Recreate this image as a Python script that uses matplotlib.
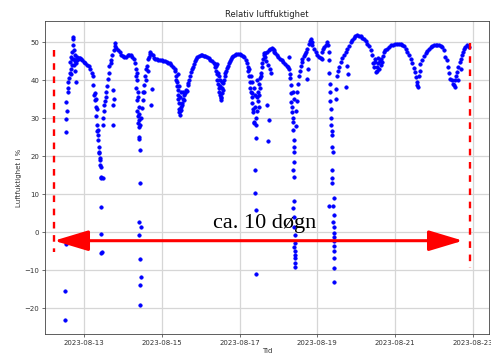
import matplotlib
matplotlib.use('Agg')
import matplotlib.pyplot as plt
import matplotlib.dates as mdates
from matplotlib.lines import Line2D
import numpy as np
import pandas as pd

# humidity log, hours after 2023-08-12 00:00 and relative humidity in %
start = np.array([
    (12.5, -23.0), (12.6, -15.5), (12.8, -3.0), (12.7, 26.4), (13.0, 34.2), (13.3, 29.9),
    (13.6, 32.0), (14.0, 36.9), (14.1, 39.5), (14.5, 38.0), (15.0, 40.5), (15.2, 42.0),
    (15.4, 44.7), (15.8, 41.5), (16.0, 43.0), (16.3, 46.0), (16.6, 44.0), (16.8, 47.3),
    (17.0, 45.5), (17.2, 49.1), (17.3, 50.8), (17.5, 51.3), (17.7, 48.0), (17.9, 45.5),
    (18.1, 44.0), (18.3, 46.5), (18.5, 42.5), (18.8, 45.0), (19.0, 44.5), (19.3, 39.5),
    (19.6, 46.0), (20.0, 45.2), (20.5, 45.6), (21.0, 45.8), (21.5, 45.7), (22.0, 45.5),
    (23.0, 45.2), (24.0, 44.7), (25.0, 44.4), (26.0, 44.0), (27.0, 43.6), (28.0, 42.8),
    (29.0, 42.0),
])

dip_13 = np.array([
    (29.6, 41.0), (29.9, 38.6), (30.2, 36.0), (30.6, 34.7), (30.9, 36.5), (31.2, 33.0),
    (31.5, 35.0), (31.7, 30.5), (31.9, 32.5), (32.1, 28.1), (32.3, 26.5), (32.5, 25.5),
    (32.7, 27.0), (32.9, 24.2), (33.1, 22.5), (33.3, 21.2), (33.5, 20.8), (33.7, 19.4),
    (33.9, 19.0), (34.1, 17.7), (34.3, 17.2), (34.5, 14.6), (34.7, 14.4), (34.7, 6.7),
    (34.8, -0.5), (34.8, -5.4), (34.9, -5.2), (35.6, 14.2), (35.7, 28.1), (36.0, 30.0),
    (36.3, 32.0), (36.7, 33.5), (37.0, 34.5), (37.4, 35.5), (37.8, 36.9), (38.2, 38.5),
    (38.8, 40.4), (39.3, 42.0), (39.8, 43.8), (40.5, 44.5), (41.0, 45.2), (41.5, 46.5),
    (41.8, 33.4), (41.8, 28.1), (41.9, 37.3), (42.3, 47.8), (42.5, 35.0), (43.0, 49.0),
    (43.5, 49.8), (44.0, 48.5), (45.0, 47.8), (46.0, 47.3), (47.0, 46.7), (48.0, 46.3),
    (49.0, 46.0), (50.0, 46.2), (51.0, 46.5), (52.0, 46.6), (53.0, 46.5), (54.0, 46.2),
    (55.0, 45.5),
])

dip_14 = np.array([
    (55.6, 44.4), (56.0, 43.0), (56.2, 41.2), (56.3, 38.0), (56.5, 42.0), (56.6, 34.7),
    (56.8, 40.0), (57.0, 32.0), (57.2, 37.0), (57.3, 30.5), (57.5, 35.5), (57.6, 28.6),
    (57.8, 33.0), (57.9, 29.5), (58.0, 27.7), (58.1, 31.0), (58.2, 25.1), (58.3, 24.5),
    (58.4, 21.6), (58.5, 28.2), (58.8, 12.9), (57.8, 2.6), (59.2, 1.5), (58.3, -0.7),
    (58.8, -6.9), (59.3, -11.7), (58.9, -13.8), (58.8, -19.2), (59.5, 30.0), (60.0, 32.6),
    (60.3, 34.7), (60.5, 36.9), (61.0, 38.6), (61.4, 37.0), (61.8, 41.2), (62.3, 40.0),
    (62.5, 43.0), (63.0, 43.8), (63.4, 42.5), (63.8, 45.6), (64.4, 46.0), (64.7, 46.9),
    (65.0, 47.5), (65.5, 46.9), (65.7, 33.4), (66.0, 37.7), (66.5, 46.5), (67.0, 45.8),
    (68.0, 45.6), (69.0, 45.6), (70.0, 45.4), (71.0, 45.3), (72.0, 45.2), (73.0, 45.1),
    (74.0, 45.0), (75.0, 44.8), (76.0, 44.6), (77.0, 44.4), (78.0, 44.1), (79.0, 43.5),
    (80.0, 43.0),
])

dip_15 = np.array([
    (80.5, 42.5), (80.8, 41.0), (81.1, 40.0), (81.4, 38.5), (81.7, 39.5), (81.9, 37.5),
    (82.1, 36.0), (82.3, 35.0), (82.5, 34.0), (82.7, 32.5), (82.9, 31.5), (83.1, 30.8),
    (83.4, 32.0), (83.7, 33.0), (84.0, 32.2), (84.4, 34.0), (84.8, 33.5), (85.2, 35.0),
    (85.6, 34.8), (86.0, 36.0), (86.5, 36.5), (87.0, 37.5), (87.5, 37.2), (88.0, 38.6),
    (88.5, 39.2), (89.0, 40.0), (89.5, 41.0), (90.0, 42.1), (90.6, 42.8), (91.2, 43.5),
    (91.8, 44.2), (92.5, 45.0), (93.2, 45.6), (81.8, 41.5), (82.4, 38.5), (83.0, 35.5),
    (84.2, 36.8), (85.0, 37.0), (94.0, 46.0), (95.0, 46.3), (96.0, 46.5), (97.0, 46.5),
    (98.0, 46.4), (99.0, 46.3), (100.0, 46.1), (101.0, 45.8), (102.0, 45.4), (103.0, 45.0),
    (104.0, 44.6),
])

dip_16 = np.array([
    (104.6, 43.5), (105.0, 44.2), (105.4, 42.5), (105.8, 43.8), (106.1, 41.5), (106.4, 40.0),
    (106.7, 42.0), (107.0, 39.0), (107.3, 38.0), (107.6, 37.0), (107.9, 38.5), (108.2, 36.0),
    (108.4, 35.2), (108.6, 34.7), (108.8, 35.5), (109.1, 36.5), (109.4, 38.0), (109.7, 37.5),
    (110.0, 39.2), (110.4, 40.0), (110.8, 41.0), (111.2, 41.8), (111.7, 42.5), (112.2, 43.2),
    (112.8, 43.8), (113.4, 44.5), (114.0, 45.0), (114.7, 45.5), (115.4, 46.0), (116.0, 46.3),
    (106.0, 44.3), (107.2, 41.0), (108.0, 40.0), (109.0, 39.5), (117.0, 46.5), (118.0, 46.8),
    (119.0, 46.9), (120.0, 46.9), (121.0, 46.7), (122.0, 46.4), (123.0, 46.0), (124.0, 45.3),
])

dip_17 = np.array([
    (124.6, 44.5), (125.0, 43.5), (125.4, 42.5), (125.8, 41.0), (126.1, 42.8), (126.4, 39.5),
    (126.7, 38.0), (127.0, 37.0), (127.2, 41.0), (127.5, 35.5), (127.8, 34.0), (128.0, 36.5),
    (128.3, 32.5), (128.5, 31.5), (128.7, 38.0), (129.0, 29.0), (129.2, 28.6), (129.5, 33.0),
    (129.6, 16.4), (129.8, 10.3), (130.0, 28.1), (130.1, 24.7), (130.1, 5.9), (130.1, -10.9),
    (130.4, 30.0), (130.7, 35.5), (131.0, 32.0), (131.3, 34.5), (131.6, 37.0), (131.9, 36.0),
    (132.2, 39.0), (132.5, 38.0), (132.8, 40.5), (133.1, 42.0), (133.4, 41.0), (133.7, 43.5),
    (134.0, 44.5), (134.4, 45.5), (134.8, 46.5), (135.2, 47.0), (127.9, 39.5), (129.3, 36.0),
    (130.6, 40.0), (131.8, 33.0), (135.6, 46.0), (136.0, 47.0), (136.5, 45.0), (137.0, 47.5),
    (137.1, 33.4), (137.5, 44.0), (137.8, 24.0), (138.0, 48.0), (138.3, 29.6), (138.5, 43.0),
    (139.0, 48.2), (139.5, 42.0), (140.0, 48.5), (140.5, 48.2), (141.0, 48.0), (141.5, 47.5),
    (142.0, 47.0), (143.0, 46.5), (144.0, 46.0), (145.0, 45.6), (146.0, 45.2), (147.0, 44.8),
    (148.0, 44.3), (149.0, 43.8), (150.0, 43.4),
])

dip_18 = np.array([
    (150.6, 46.0), (150.8, 43.0), (151.1, 41.5), (151.3, 40.5), (151.6, 38.6), (151.8, 36.5),
    (152.0, 34.2), (152.3, 33.0), (152.6, 31.6), (152.8, 30.0), (153.0, 29.0), (153.2, 27.0),
    (153.4, 24.2), (153.6, 22.5), (153.7, 21.2), (153.8, 18.5), (153.2, 16.4), (153.4, 14.5),
    (153.6, 8.3), (152.8, 6.5), (153.7, 4.1), (153.8, 1.5), (154.0, -0.7), (154.0, -2.8),
    (154.1, -5.0), (154.2, -5.9), (154.2, -6.8), (154.3, -8.1), (154.3, -9.0), (153.9, -4.0),
    (152.9, 37.0), (153.3, 35.0), (154.6, 28.0), (155.0, 32.0), (155.3, 34.5), (155.7, 36.9),
    (156.2, 39.0), (156.7, 41.2), (157.2, 42.5), (157.8, 43.8), (158.3, 44.8), (158.8, 45.6),
    (159.5, 46.3), (160.2, 46.8), (160.9, 47.3), (161.6, 40.4), (161.8, 48.2), (162.2, 43.0),
    (162.5, 45.5), (162.9, 49.5), (163.4, 50.3), (163.9, 50.8), (164.5, 50.0), (165.0, 49.3),
    (166.0, 48.3), (167.0, 47.3), (168.0, 46.6), (169.0, 46.0), (170.0, 45.7), (170.6, 45.6),
    (171.1, 47.5), (171.6, 48.2), (172.2, 48.8), (173.2, 49.1), (174.0, 49.9), (174.6, 49.2),
    (175.0, 47.5),
])

dip_19 = np.array([
    (175.2, 45.2), (175.2, 6.8), (175.4, 42.0), (175.6, 39.0), (175.8, 36.9), (176.0, 34.5),
    (176.2, 32.5), (176.4, 30.0), (176.6, 28.1), (176.8, 26.5), (176.9, 12.9), (177.0, 25.5),
    (177.2, 22.5), (177.2, 16.4), (177.3, 14.2), (177.5, 21.2), (177.9, 6.8), (177.9, 2.8),
    (178.0, -0.2), (178.0, 1.5), (178.1, -2.4), (178.2, -1.2), (178.3, -3.7), (178.1, -5.0),
    (178.2, -6.8), (178.5, -9.4), (178.4, -13.1), (178.3, 4.5), (178.2, 9.0), (179.3, 37.7),
    (179.8, 35.0), (180.3, 41.2), (181.0, 42.5), (181.3, 43.5), (182.4, 44.7), (183.5, 45.8),
    (184.5, 46.5), (185.5, 47.3), (185.5, 38.2), (186.5, 48.3), (186.5, 43.8), (187.0, 41.5),
    (187.5, 49.0), (188.5, 50.0), (189.5, 50.6), (190.6, 51.2), (191.5, 51.6), (192.5, 51.8),
    (193.7, 51.7), (194.7, 51.5), (195.7, 51.2), (196.7, 50.8), (197.7, 50.3), (198.7, 49.6),
    (199.8, 49.0), (200.8, 47.8), (201.8, 46.6),
])

end = np.array([
    (202.3, 44.5), (202.9, 43.4), (203.3, 45.5), (203.6, 44.8), (204.0, 42.1), (204.5, 43.5),
    (205.0, 42.5), (205.3, 45.8), (205.5, 44.5), (206.0, 43.0), (206.5, 45.0), (207.0, 44.0),
    (207.5, 45.5), (208.0, 44.8), (208.5, 46.3), (209.1, 47.3), (210.0, 47.8), (211.0, 48.3),
    (212.0, 48.7), (213.2, 49.1), (214.5, 49.2), (216.0, 49.4), (217.0, 49.5), (218.3, 49.5),
    (219.5, 49.4), (220.5, 49.2), (221.4, 48.9), (222.4, 48.3), (223.4, 47.3), (224.5, 46.5),
    (225.5, 45.5), (226.5, 44.5), (227.5, 43.2), (228.5, 42.1), (229.0, 40.8), (229.5, 38.6),
    (229.7, 39.5), (230.0, 38.3), (230.5, 41.0), (231.0, 42.5), (231.6, 44.3), (232.5, 45.3),
    (233.5, 46.3), (234.7, 47.0), (235.7, 47.7), (236.8, 48.3), (237.8, 48.6), (239.0, 49.0),
    (240.0, 49.1), (241.0, 49.2), (242.0, 49.2), (243.0, 49.2), (244.0, 49.0), (245.0, 48.6),
    (246.0, 47.8), (247.0, 46.2), (247.8, 45.2), (248.4, 43.5), (249.2, 42.0), (250.1, 40.4),
    (250.8, 40.0), (251.5, 39.0), (252.1, 38.6), (252.6, 38.3), (253.0, 39.9), (253.5, 41.0),
    (254.2, 42.1), (254.6, 40.0), (255.0, 43.5), (255.7, 44.7), (256.3, 45.5), (256.8, 43.0),
    (257.0, 46.5), (257.7, 47.3), (258.3, 48.2), (259.2, 48.8), (260.3, 49.1), (261.4, 48.6),
])

log = np.vstack([start, dip_13, dip_14, dip_15, dip_16, dip_17, dip_18, dip_19, end])
tid = pd.Timestamp('2023-08-12') + pd.to_timedelta(log[:, 0], unit='h')
rh = log[:, 1]

W, H = 491, 359
fig = plt.figure(figsize=(W / 100, H / 100), dpi=100)
ax = fig.add_axes([45 / W, 1 - 334 / H, 444 / W, 313 / H])

ax.plot(tid, rh, '.', color='blue', ms=4.8, mew=0.6)
ax.set_axisbelow(True)
ax.grid(True, color='#d6d6d6', lw=0.9)

# ticks on the odd days of the month: 13, 15, 17, ...
ax.xaxis.set_major_locator(mdates.DayLocator(bymonthday=range(1, 32, 2)))
ax.xaxis.set_major_formatter(mdates.DateFormatter('%Y-%m-%d'))
ax.tick_params(labelsize=5, length=2.2, width=0.5, pad=1.8, colors='#333333')
for s in ax.spines.values():
    s.set_linewidth(0.6)
    s.set_color('#444444')

ax.set_title('Relativ luftfuktighet', fontsize=6, pad=3, color='#222222')
ax.set_xlabel('Tid', fontsize=5, labelpad=2, color='#333333')
ax.set_ylabel('Luftfuktighet i %', fontsize=5, labelpad=2, color='#333333')

# hand-drawn span marker: two dashed red bars with a double arrow between them
red = '#ff0000'
for x, y0, y1 in [(54, 50, 252), (470, 43, 268)]:
    fig.add_artist(Line2D([x / W, x / W], [1 - y0 / H, 1 - y1 / H], transform=fig.transFigure,
                          color=red, lw=1.7, linestyle=(0, (2.8, 2.8))))
ax.annotate('', xy=(54, H - 240.7), xytext=(463, H - 240.7),
            xycoords='figure pixels', textcoords='figure pixels',
            arrowprops=dict(arrowstyle='<|-|>,head_length=2.1,head_width=0.63',
                            color=red, lw=2.2, shrinkA=0, shrinkB=0, mutation_scale=10))
fig.text(265 / W, 1 - 228 / H, 'ca. 10 døgn', ha='center', va='baseline',
         fontsize=16, family='Liberation Serif', color='black')

fig.savefig('out.png', dpi=100)
